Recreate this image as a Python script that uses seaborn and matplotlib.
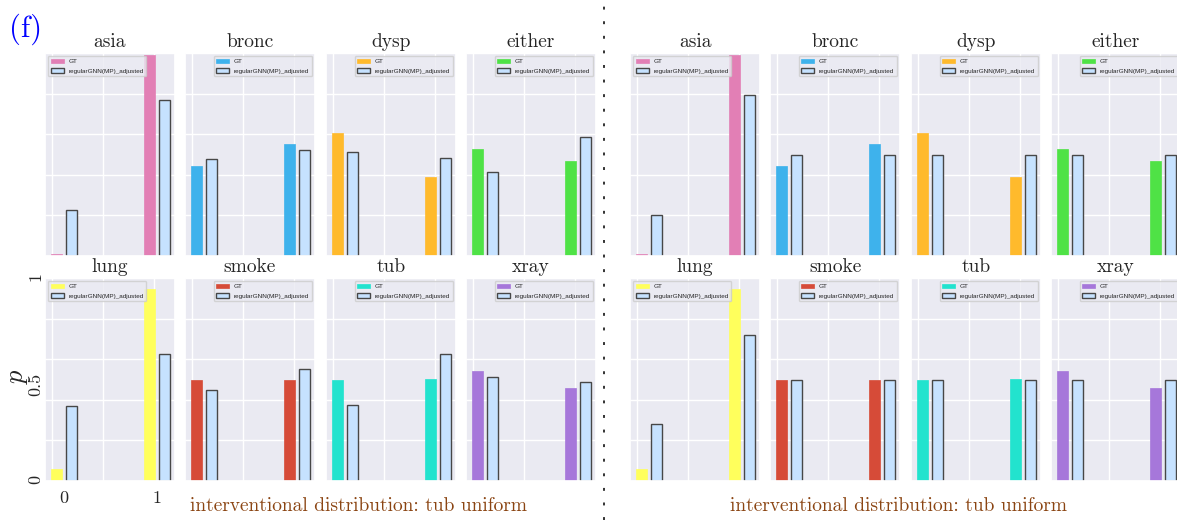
import numpy as np
import pandas as pd
import matplotlib
matplotlib.use("Agg")
import matplotlib.pyplot as plt
from matplotlib.lines import Line2D
import seaborn as sns

# ---- data -------------------------------------------------------------
variables = ["asia", "bronc", "dysp", "either", "lung", "smoke", "tub", "xray"]
states = ["0", "1"]
model_name = "regularGNN(MP)_adjusted"
series_names = ["GT", model_name]

gt_colors = ["#E27FB5", "#3EB2EC", "#FFBA2C", "#4FE246",
             "#FFFF5C", "#D64B38", "#22E3CE", "#A677DA"]

# ground-truth probabilities for state 0 / state 1
gt_p0 = [0.010, 0.445, 0.607, 0.526, 0.058, 0.500, 0.496, 0.540]
gt_p1 = [0.990, 0.553, 0.390, 0.470, 0.944, 0.500, 0.501, 0.460]

# model estimates, left comparison
left_model_p0 = [0.226, 0.478, 0.511, 0.414, 0.370, 0.447, 0.373, 0.510]
left_model_p1 = [0.770, 0.520, 0.485, 0.584, 0.627, 0.550, 0.624, 0.486]

# model estimates, right comparison
right_model_p0 = [0.200, 0.500, 0.500, 0.500, 0.279, 0.500, 0.500, 0.500]
right_model_p1 = [0.795, 0.500, 0.500, 0.500, 0.719, 0.500, 0.500, 0.500]

caption = "interventional distribution: tub uniform"
y_tick_values = [0, 0.5, 1]
y_tick_labels = ["0", "0.5", "1"]

# ---- styling ----------------------------------------------------------
sns.set_theme(style="darkgrid")
plt.rcParams["font.family"] = ["cmr10", "DejaVu Sans"]
plt.rcParams["mathtext.fontset"] = "cm"
plt.rcParams["axes.formatter.use_mathtext"] = True

MODEL_FILL = "#C6E2FF"
MODEL_EDGE = "#474747"
CAPTION_COLOR = "#8B4513"

W, H = 1177, 520
fig = plt.figure(figsize=(W / 100, H / 100), dpi=100)


def px_axes(x0, y0, w, h):
    return fig.add_axes([x0 / W, 1 - (y0 + h) / H, w / W, h / H])


panel_cols = [[45, 185, 326, 466], [630, 770, 911, 1051]]
row_tops = [53, 278]
AX_W, AX_H = 130, 203
grid_x = [-0.13, 0.42, 0.97]


def draw_panel(cols, model_p0, model_p1, label_axes):
    for i, var in enumerate(variables):
        r, c = divmod(i, 4)
        ax = px_axes(cols[c], row_tops[r], AX_W, AX_H)
        df = pd.DataFrame({
            "state": states * 2,
            "series": [series_names[0]] * 2 + [series_names[1]] * 2,
            "p": [gt_p0[i], gt_p1[i], model_p0[i], model_p1[i]],
        })
        sns.barplot(data=df, x="state", y="p", hue="series",
                    hue_order=series_names,
                    palette=[gt_colors[i], MODEL_FILL],
                    saturation=1, width=0.33, gap=0.3, errorbar=None,
                    ax=ax, legend=False)
        gt_cont, model_cont = ax.containers[0], ax.containers[1]
        for p in gt_cont.patches:
            p.set_edgecolor(gt_colors[i])
            p.set_linewidth(0.5)
        for p in model_cont.patches:
            p.set_edgecolor(MODEL_EDGE)
            p.set_linewidth(1.0)

        ax.set_xlim(-0.205, 1.195)
        ax.set_ylim(0, 1)
        ax.set_xticks(grid_x)
        ax.set_yticks(np.arange(0, 1.01, 0.2))
        ax.xaxis.grid(True)
        ax.yaxis.grid(True)
        ax.tick_params(which="both", length=0, labelbottom=False, labelleft=False)
        ax.set_xlabel("")
        ax.set_ylabel("")
        ax.set_title(var, fontsize=14, pad=4)

        if label_axes and i == 4:
            ax.xaxis.remove_overlapping_locs = False
            ax.yaxis.remove_overlapping_locs = False
            ax.set_xticks([0, 1], labels=states, minor=True)
            ax.set_yticks(y_tick_values, labels=y_tick_labels, minor=True)
            ax.tick_params(which="minor", length=0, labelsize=13,
                           labelbottom=True, labelleft=True)
            ax.tick_params(axis="x", which="minor", pad=7)
            ax.tick_params(axis="y", which="minor", pad=1, labelrotation=90)
            ax.grid(which="minor", visible=False)

        ax.legend(handles=[gt_cont.patches[0], model_cont.patches[0]],
                  labels=series_names,
                  loc="upper left" if c == 0 else "upper right",
                  prop={"family": "Liberation Sans", "size": 4.6},
                  borderaxespad=0.5, labelspacing=0.6,
                  framealpha=0.8, edgecolor="0.8")


draw_panel(panel_cols[0], left_model_p0, left_model_p1, True)
draw_panel(panel_cols[1], right_model_p0, right_model_p1, False)

fig.text(359 / W, 1 - 506 / H, caption, ha="center", va="center",
         color=CAPTION_COLOR, fontsize=14)
fig.text(898 / W, 1 - 506 / H, caption, ha="center", va="center",
         color=CAPTION_COLOR, fontsize=14)
fig.text(26 / W, 1 - 29 / H, "(f)", ha="center", va="center",
         color="blue", fontsize=22)
fig.text(18 / W, 1 - 376 / H, r"$p$", ha="center", va="center",
         rotation=90, fontsize=19)

fig.add_artist(Line2D([604 / W, 604 / W], [0, 1], transform=fig.transFigure,
                      color="#333333", linewidth=1.4,
                      linestyle=(0, (1.5, 6))))

fig.savefig("out.png", dpi=100)
